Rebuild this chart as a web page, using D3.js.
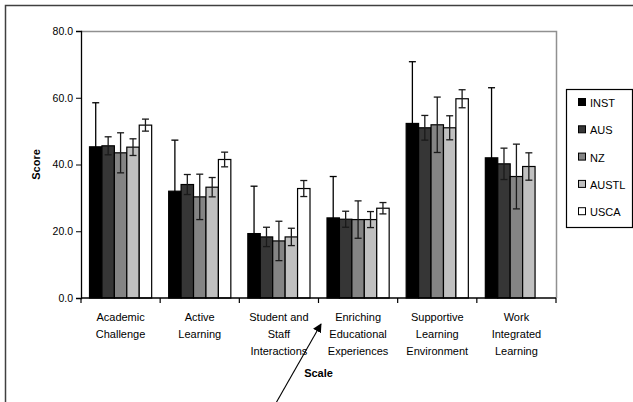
<!DOCTYPE html>
<html>
<head>
<meta charset="utf-8">
<title>Scale scores</title>
<script src="https://d3js.org/d3.v7.min.js"></script>
<style>
  body { margin: 0; background: #fff; }
  text { font-family: Arial, "Liberation Sans", sans-serif; fill: #000; }
</style>
</head>
<body>
<svg id="chart" width="633" height="402"></svg>
<script>
// chart data
const categories = ["Academic\nChallenge", "Active\nLearning", "Student and\nStaff\nInteractions",
    "Enriching\nEducational\nExperiences", "Supportive\nLearning\nEnvironment", "Work\nIntegrated\nLearning"];
const seriesNames = ["INST", "AUS", "NZ", "AUSTL", "USCA"];
const seriesColors = ["#000000", "#363636", "#848484", "#c0c0c0", "#ffffff"];

const inst  = [45.3, 32.0, 19.3, 24.0, 52.3, 42.0];
const aus   = [45.6, 34.0, 18.3, 23.6, 51.0, 40.2];
const nz    = [43.5, 30.3, 17.1, 23.5, 51.9, 36.4];
const austl = [45.2, 33.2, 18.3, 23.5, 51.0, 39.4];
const usca  = [51.8, 41.5, 32.8, 26.9, 59.7, null];

const instErr  = [13.2, 15.3, 14.2, 12.4, 18.5, 21.0];
const ausErr   = [2.7, 3.0, 2.9, 2.4, 3.7, 4.7];
const nzErr    = [6.0, 6.8, 5.9, 5.6, 8.3, 9.7];
const austlErr = [2.5, 2.9, 2.6, 2.4, 3.6, 4.1];
const uscaErr  = [1.8, 2.2, 2.4, 1.7, 2.7, null];

const yTicks = [0, 20, 40, 60, 80];

const allValues = [inst, aus, nz, austl, usca];
const allErrs = [instErr, ausErr, nzErr, austlErr, uscaErr];

// flat table for drawing
const rows = [];
categories.forEach((c, i) => {
    seriesNames.forEach((s, j) => {
        if (allValues[j][i] != null) {
            rows.push({cat: c, series: s, color: seriesColors[j], value: allValues[j][i], err: allErrs[j][i]});
        }
    });
});

const svg = d3.select("#chart");
const plot = {left: 81, right: 556, top: 31, bottom: 298};

// outer chart border
svg.append("rect").attr("x", 5.5).attr("y", 5.5).attr("width", 700).attr("height", 500)
    .attr("fill", "none").attr("stroke", "#404040").attr("stroke-width", 1.5);

const x = d3.scaleBand().domain(categories).range([plot.left, plot.right]);
const gap = 17;
const x1 = d3.scaleBand().domain(seriesNames).range([gap / 2, x.bandwidth() - gap / 2]);
const y = d3.scaleLinear().domain([0, 80]).range([plot.bottom, plot.top]);

// plot area border (top and right, gray)
svg.append("path")
    .attr("d", `M${plot.left},${plot.top + 0.5}H${plot.right + 0.5}V${plot.bottom}`)
    .attr("fill", "none").attr("stroke", "#909090").attr("stroke-width", 1.5);

// bars
svg.append("g").selectAll("rect").data(rows).join("rect")
    .attr("x", d => x(d.cat) + x1(d.series))
    .attr("y", d => y(d.value))
    .attr("width", x1.bandwidth())
    .attr("height", d => y(0) - y(d.value))
    .attr("fill", d => d.color)
    .attr("stroke", "#000").attr("stroke-width", 1.2);

// error bars
const eb = svg.append("g").attr("stroke", "#1a1a1a").attr("stroke-width", 1.3);
rows.forEach(d => {
    const cx = x(d.cat) + x1(d.series) + x1.bandwidth() / 2;
    const y0 = y(d.value - d.err), y1 = y(d.value + d.err);
    const col = d.series == "INST" ? "#000" : "#1a1a1a";
    eb.append("line").attr("x1", cx).attr("x2", cx).attr("y1", y0).attr("y2", y1).attr("stroke", col);
    [y0, y1].forEach(yy => {
        eb.append("line").attr("x1", cx - 3.5).attr("x2", cx + 3.5).attr("y1", yy).attr("y2", yy)
            .attr("stroke", col);
    });
});

// y axis
const yAxis = svg.append("g").attr("transform", `translate(${plot.left},0)`)
    .call(d3.axisLeft(y).tickValues(yTicks).tickSize(5).tickPadding(3).tickFormat(d3.format(".1f")));
yAxis.select(".domain").attr("stroke", "#000").attr("stroke-width", 1.3);
yAxis.selectAll(".tick line").attr("stroke", "#000");
yAxis.selectAll("text").style("font-size", "10.5px").attr("fill", "#000");

// x axis with ticks at category boundaries
svg.append("line").attr("x1", plot.left).attr("x2", plot.right).attr("y1", plot.bottom).attr("y2", plot.bottom)
    .attr("stroke", "#000").attr("stroke-width", 1.3);
const bounds = categories.map(c => x(c)).concat([plot.right]);
svg.append("g").selectAll("line").data(bounds).join("line")
    .attr("x1", d => d).attr("x2", d => d).attr("y1", plot.bottom).attr("y2", plot.bottom + 5)
    .attr("stroke", "#000").attr("stroke-width", 1.2);

const xl = svg.append("g").selectAll("text").data(categories).join("text")
    .attr("x", d => x(d) + x.bandwidth() / 2)
    .attr("y", 321)
    .attr("text-anchor", "middle")
    .style("font-size", "11px");
xl.each(function(d) {
    d.split("\n").forEach((line, i) => {
        d3.select(this).append("tspan").attr("x", x(d) + x.bandwidth() / 2)
            .attr("dy", i == 0 ? 0 : 16.8).text(line);
    });
});

// axis titles
svg.append("text").attr("x", (plot.left + plot.right) / 2).attr("y", 377)
    .attr("text-anchor", "middle").style("font-size", "11px").style("font-weight", "bold").text("Scale");
svg.append("text").attr("transform", `translate(40,${(plot.top + plot.bottom) / 2}) rotate(-90)`)
    .attr("text-anchor", "middle").style("font-size", "11px").style("font-weight", "bold").text("Score");

// legend
const lg = svg.append("g");
lg.append("rect").attr("x", 566.5).attr("y", 89.5).attr("width", 66).attr("height", 138)
    .attr("fill", "#fff").attr("stroke", "#000").attr("stroke-width", 1.2);
seriesNames.forEach((s, i) => {
    const yy = 103 + i * 27.3;
    lg.append("rect").attr("x", 578.5).attr("y", yy - 4.5).attr("width", 7).attr("height", 7)
        .attr("fill", seriesColors[i]).attr("stroke", "#000");
    lg.append("text").attr("x", 590).attr("y", yy + 4).style("font-size", "11px").text(s);
});

// annotation arrow
const defs = svg.append("defs");
defs.append("marker").attr("id", "arrow").attr("viewBox", "0 0 10 10").attr("refX", 9).attr("refY", 5)
    .attr("markerWidth", 9).attr("markerHeight", 9).attr("markerUnits", "userSpaceOnUse").attr("orient", "auto")
    .append("path").attr("d", "M0,0L10,5L0,10z").attr("fill", "#000");
svg.append("line").attr("x1", 276).attr("y1", 403).attr("x2", 321).attr("y2", 324)
    .attr("stroke", "#000").attr("stroke-width", 1.1).attr("marker-end", "url(#arrow)");
</script>
</body>
</html>
